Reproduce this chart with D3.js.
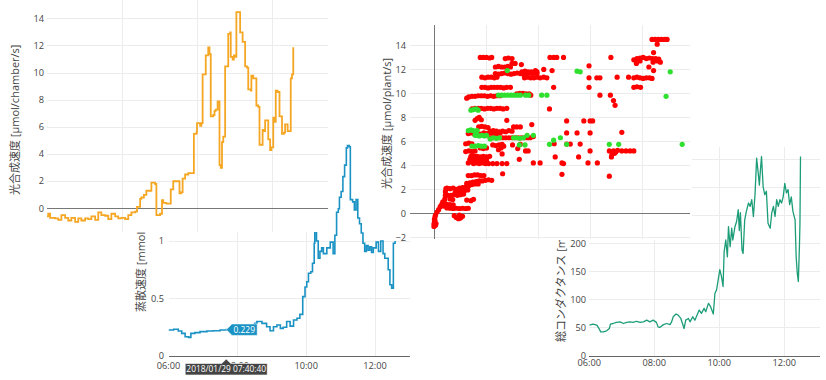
<!DOCTYPE html>
<html>
<head>
<meta charset="utf-8">
<script src="https://cdn.jsdelivr.net/npm/d3@7"></script>
<style>
  html, body { margin: 0; padding: 0; background: #fff; }
  svg { display: block; }
  text { font-family: "Open Sans", "Noto Sans CJK JP", sans-serif; fill: #444; }
</style>
</head>
<body>
<svg id="chart" width="826" height="380"></svg>
<script>
// ---- Photosynthesis per chamber (step series) ----
const photoTime = ["06:00","06:02","06:05","06:13","06:18","06:23","06:29","06:34","06:39","06:45","06:50","06:55","07:01","07:06","07:11","07:17","07:22","07:27","07:33","07:38","07:43","07:49","07:54","07:59","08:05","08:10","08:15","08:21","08:24","08:29","08:31","08:35","08:39","08:44","08:47","08:53","08:55","09:01","09:04","09:06","09:11","09:18","09:22","09:27","09:32","09:35","09:37","09:41","09:46","09:51","09:55","09:59","10:00","10:05","10:07","10:09","10:13","10:14","10:16","10:18","10:20","10:22","10:26","10:28","10:30","10:33","10:34","10:36","10:38","10:40","10:42","10:45","10:48","10:50","10:53","10:54","10:57","10:59","11:01","11:03","11:06","11:09","11:11","11:13","11:16","11:17","11:20","11:22","11:26","11:27","11:30","11:33","11:35","11:38","11:40","11:43","11:45","11:47","11:49","11:51","11:54","11:57","11:59","12:02","12:04","12:06","12:09","12:12","12:14","12:16","12:19","12:21","12:23","12:25","12:27","12:30","12:32","12:34"];
const photoValue = [-0.6,-0.4,-0.7,-0.75,-0.85,-0.5,-0.7,-0.9,-0.7,-1.0,-0.75,-0.9,-0.75,-0.8,-0.6,-0.85,-0.3,-0.5,-0.55,-0.8,-0.4,-0.6,-0.75,-0.7,-0.8,-0.5,-0.3,-0.25,0.1,0.7,0.8,1.0,1.3,1.3,1.9,1.8,-0.5,-0.4,0.6,0.4,0.35,1.4,2.0,2.0,1.1,1.2,2.2,2.5,2.6,2.6,5.5,5.6,6.3,6.1,6.3,9.9,9.9,11.3,11.3,11.9,11.4,6.8,6.9,7.2,7.3,7.9,7.9,3.2,3.0,4.9,5.3,10.5,10.5,12.9,13.0,11.2,11.0,11.3,11.2,14.5,14.5,13.0,13.0,12.3,12.3,10.5,10.4,8.8,8.7,9.8,9.6,9.6,7.6,7.5,4.7,4.7,5.8,5.7,6.5,6.5,5.1,4.3,4.5,6.7,6.4,8.7,8.6,6.8,6.8,5.5,5.6,6.2,6.2,5.7,5.7,9.6,9.9,11.9];

// ---- Transpiration (step series) ----
const transpTime = ["06:00","06:09","06:17","06:23","06:29","06:35","06:39","06:46","06:55","07:07","07:18","07:30","07:40:40","07:50","07:59","08:11","08:22","08:30","08:34","08:43","08:51","08:57","09:03","09:09","09:15","09:20","09:26","09:32","09:38","09:44","09:49","09:54","09:58","10:01","10:04","10:08","10:11","10:14","10:15","10:18","10:21","10:24","10:27","10:30","10:36","10:42","10:47","10:50","10:53","10:56","10:58","11:01","11:04","11:07","11:10","11:12","11:15","11:17","11:21","11:24","11:27","11:30","11:33","11:36","11:39","11:42","11:45","11:48","11:51","11:54","11:57","12:02","12:06","12:10","12:14","12:17","12:23","12:26","12:29","12:32","12:35"];
const transpValue = [0.226,0.232,0.217,0.197,0.168,0.162,0.197,0.203,0.212,0.217,0.22,0.226,0.229,0.238,0.24,0.25,0.262,0.285,0.3,0.284,0.255,0.22,0.255,0.27,0.24,0.25,0.3,0.26,0.313,0.328,0.362,0.516,0.6,0.646,0.719,0.733,0.806,0.98,1.08,1.0,0.85,0.91,0.94,0.89,0.94,0.99,0.89,1.05,1.25,1.28,1.38,1.43,1.56,1.66,1.81,1.83,1.82,1.36,1.34,1.27,1.36,1.2,1.15,1.07,0.98,0.91,0.96,0.92,0.95,0.9,0.94,0.99,0.91,1.0,0.89,0.85,0.75,0.62,0.59,0.98,1.0];

// ---- Total conductance ----
const condTime = ["06:00","06:07","06:14","06:18","06:21","06:26","06:32","06:37","06:39","06:44","06:50","06:57","07:03","07:09","07:15","07:21","07:27","07:34","07:40","07:46","07:52","07:58","08:04","08:07","08:10","08:17","08:23","08:29","08:32","08:35","08:40","08:44","08:49","08:52","08:55","08:58","09:03","09:06","09:11","09:15","09:19","09:23","09:27","09:32","09:35","09:40","09:44","09:49","09:52","09:55","09:58","10:01","10:04","10:07","10:09","10:12","10:15","10:17","10:20","10:23","10:25","10:29","10:32","10:35","10:37","10:39","10:42","10:44","10:47","10:50","10:54","10:57","11:00","11:03","11:06","11:09","11:12","11:14","11:16","11:18","11:21","11:24","11:27","11:30","11:34","11:37","11:40","11:43","11:46","11:49","11:52","11:55","11:58","12:01","12:04","12:07","12:10","12:13","12:16","12:20","12:22","12:24","12:26","12:28","12:29","12:30"];
const condValue = [55,57,55,49,43,43,45,49,57,58,60,61,58,60,61,60,62,60,61,64,61,64,60,52,51,56,58,56,61,70,75,73,67,58,49,64,67,61,70,64,73,82,76,85,79,94,88,75,112,118,136,154,142,124,186,207,177,231,195,228,207,231,240,261,224,256,189,183,243,258,273,267,279,249,288,353,326,305,332,356,302,288,294,237,228,256,267,249,279,267,279,273,284,308,291,297,270,284,258,243,177,148,133,195,237,356];

// ---- Photosynthesis per plant vs. conductance (scatter) ----
const scatterRed = [
  [-1,-1.1],[-1,-0.9],[0,-0.7],[0,-0.5],[1,-0.3],[2,-0.15],[3,-0.85],[2,-1.0],[1,-0.6],
  [5,0.1],[8,0.3],[11,0.55],[14,0.75],[16,0.95],
  [18,0.6],[19,0.9],[20,1.2],[21,1.5],[21,1.8],[22,2.05],
  [24,0.45],[30,0.42],[36,0.4],[42,0.42],[48,0.4],[54,0.42],[60,0.4],[65,0.42],
  [24,0.75],[30,0.72],[36,0.7],
  [38,-0.2],[42,-0.35],[46,-0.45],[50,-0.4],[54,-0.25],[48,-0.15],
  [24,2.1],[30,2.05],[36,2.1],[42,2.0],[48,2.1],[54,2.15],[60,2.2],
  [26,1.5],[32,1.5],[38,1.55],[44,1.5],[50,1.55],[56,1.6],
  [30,1.2],[35,1.15],
  [40,1.75],[46,1.8],[52,1.85],[58,1.9],[64,1.95],
  [62,1.1],[70,1.05],[75,1.17],
  [62,2.5],[68,2.55],[74,2.6],[80,2.65],[86,2.7],[92,2.7],[98,2.75],[104,2.8],[110,2.75],
  [66,2.3],[72,2.4],[78,2.45],[84,2.45],
  [65,3.15],[71,3.15],[77,3.2],[83,3.2],[89,3.15],[95,3.15],
  [131,3.3],[245,3.25],[336,3.1],
  [65,4.2],[70,4.3],[75,4.15],[80,4.2],[86,4.15],[92,4.2],[98,4.15],[104,4.15],[112,4.15],[120,4.15],[130,4.15],[139,4.15],
  [68,4.5],[74,4.45],[80,4.5],[86,4.45],[92,4.5],[100,4.45],
  [70,4.75],[76,4.8],[82,4.75],[88,4.7],[94,4.75],[100,4.7],[106,4.75],
  [60,5.15],[66,5.2],[72,5.15],[78,5.2],
  [88,5.45],[94,5.4],[100,5.45],
  [112,5.7],[118,5.65],[124,5.7],[130,5.75],
  [60,5.8],[66,5.85],[72,5.8],
  [123,5.3],[128,5.45],[133,5.6],
  [190,4.2],[203,4.2],[232,4.7],[245,4.2],[248,4.15],[277,4.7],[295,4.2],[313,4.2],
  [299,5.2],[336,5.2],[344,5.2],[352,5.25],[360,5.2],[368,5.2],[376,5.2],[383,5.2],
  [341,4.9],[346,5.0],[340,4.7],[348,5.1],
  [175,5.2],[180,5.2],[160,5.4],[163,4.5],[130,4.95],[150,5.7],[165,5.75],
  [230,5.8],[254,5.77],[261,5.77],[280,5.77],
  [107,6.3],[113,6.3],[119,6.3],[125,6.3],[131,6.3],[137,6.3],[143,6.3],[149,6.3],[155,6.3],[161,6.3],[167,6.3],[173,6.3],[179,6.3],[184,6.3],
  [65,6.65],[71,6.7],[77,6.6],[83,6.65],[89,6.6],[95,6.7],[101,6.65],[107,6.7],[113,6.65],[120,6.65],[126,6.7],
  [107,6.85],[113,6.9],[119,6.85],[125,6.8],[131,6.85],[137,6.8],[143,6.9],[149,6.85],
  [85,7.2],[91,7.25],[97,7.2],[103,7.15],[152,7.2],[158,7.2],[165,7.2],
  [187,7.4],[190,6.4],[254,6.7],[274,6.7],[299,6.7],[360,6.75],
  [254,7.7],[287,7.7],[299,7.7],[304,7.7],[139,7.75],
  [78,7.75],[82,7.9],[86,8.0],[90,7.8],
  [72,8.7],[78,8.75],[84,8.75],[90,8.75],[96,8.7],[102,8.75],[108,8.75],[114,8.7],[120,8.75],[126,8.75],[132,8.7],[139,8.75],
  [221,8.7],
  [62,9.6],[66,9.7],[72,9.75],[78,9.75],[84,9.8],[90,9.8],[96,9.8],[102,9.75],[108,9.8],[114,9.75],[120,9.8],[126,9.8],
  [158,9.95],[164,10.0],[170,10.0],[176,9.95],[182,9.95],[185,9.85],
  [91,10.5],[97,10.5],[103,10.45],[109,10.5],[115,10.5],[121,10.5],[127,10.5],[133,10.45],[139,10.5],[146,10.5],
  [229,10.5],[297,10.5],[318,9.85],[338,9.85],[344,9.4],[347,9.0],[383,10.5],[389,10.55],[396,10.5],
  [91,11.35],[97,11.3],[103,11.35],[109,11.35],[115,11.3],[120,11.35],
  [117,11.65],[123,11.6],[129,11.65],[135,11.7],[141,11.65],[147,11.6],[153,11.65],[159,11.7],[165,11.65],[171,11.6],[177,11.65],[183,11.7],[189,11.65],[197,11.65],
  [117,12.2],[123,12.25],[129,12.2],[135,12.2],[141,12.25],[146,12.2],
  [149,12.5],[155,12.5],[167,12.4],
  [168,11.8],[174,11.85],[180,11.8],[186,11.8],[197,11.8],
  [173,11.3],[179,11.35],[185,11.3],[191,11.3],[197,11.35],[203,11.3],[210,11.35],[216,11.3],
  [194,11.9],[210,12.0],[226,11.9],[297,11.3],[297,12.3],[312,11.3],[318,11.3],[351,11.35],[373,11.35],
  [383,11.3],[389,11.35],[395,11.3],[401,11.25],[407,11.3],[413,11.3],[418,11.25],
  [421,11.9],[412,12.2],
  [88,13.0],[94,13.0],[100,13.0],[106,12.95],[110,13.0],
  [136,12.9],[142,12.95],[149,12.9],
  [222,13.0],[229,13.0],[235,13.0],[248,13.0],[339,13.0],
  [383,12.8],[389,12.9],[395,12.95],[401,13.0],[407,12.9],[413,12.95],[419,12.9],[425,12.9],[431,12.85],[434,12.6],[428,12.7],[420,12.6],[395,12.7],[388,12.5],
  [421,13.4],
  [418,14.5],[424,14.5],[430,14.5],[436,14.5],[442,14.5],[447,14.5],[428,14.1]
];
const scatterGreen = [
  [65,6.9],[70,6.95],[74,6.9],[78,6.85],[82,6.9],
  [78,6.5],[82,6.5],[86,6.45],[91,6.5],[96,6.45],[100,6.5],
  [70,8.6],[75,8.65],[80,8.7],[84,8.6],
  [72,5.6],[78,5.6],[84,5.65],[90,5.6],[96,5.6],
  [107,6.2],[113,6.3],[119,6.25],[125,6.3],
  [152,6.3],[158,6.3],[164,6.25],[171,6.3],[178,6.5],[190,6.5],
  [123,9.85],[129,9.85],[135,9.85],[141,9.85],[147,9.85],[153,9.85],[159,9.85],[165,9.85],[175,9.85],[181,9.85],[206,9.85],[216,9.85],
  [140,11.9],[163,5.7],[174,5.7],
  [221,5.75],[229,6.1],[242,6.3],[254,5.75],[336,5.75],[354,5.75],
  [274,11.85],[280,11.8],[445,9.75],[453,11.8],[476,5.75]
];

const hoverTime = "07:40:40";

// ---- helpers ----
const svg = d3.select("#chart");
const GRID = "#ececec", ZERO = "#777", AXIS = "#666";
const TICK_FS = "9.2px", TITLE_FS = "11px";
const clockParse = d3.timeParse("%Y-%m-%d %H:%M:%S");
const parseClock = s => clockParse("2018-01-29 " + (s.length === 5 ? s + ":00" : s));
const series = (times, values) => times.map((t, i) => ({ key: t, t: parseClock(t), v: values[i] }));

const photo = series(photoTime, photoValue);
const transp = series(transpTime, transpValue);
const cond = series(condTime, condValue);

function addClip(id, x0, y0, x1, y1) {
  svg.append("clipPath").attr("id", id).append("rect")
    .attr("x", x0).attr("y", y0).attr("width", x1 - x0).attr("height", y1 - y0);
}
function hLines(g, ys, x0, x1, color) {
  g.append("g").selectAll("line").data(ys).join("line")
    .attr("x1", x0).attr("x2", x1).attr("y1", d => d).attr("y2", d => d)
    .attr("stroke", color).attr("stroke-width", 1).attr("shape-rendering", "crispEdges");
}
function vLines(g, xs, y0, y1, color) {
  g.append("g").selectAll("line").data(xs).join("line")
    .attr("x1", d => d).attr("x2", d => d).attr("y1", y0).attr("y2", y1)
    .attr("stroke", color).attr("stroke-width", 1).attr("shape-rendering", "crispEdges");
}
function yLabels(g, scale, ticks, x, fmt) {
  g.append("g").selectAll("text").data(ticks).join("text")
    .attr("x", x).attr("y", d => scale(d)).attr("dy", "0.35em")
    .attr("text-anchor", "end").style("font-size", TICK_FS).text(fmt);
}
function xLabels(g, scale, ticks, y) {
  g.append("g").selectAll("text").data(ticks).join("text")
    .attr("x", d => scale(d)).attr("y", y)
    .attr("text-anchor", "middle").style("font-size", TICK_FS).text(d3.timeFormat("%H:%M"));
}
function vTitle(g, x, y, txt) {
  g.append("text").attr("transform", `translate(${x},${y}) rotate(-90)`)
    .attr("text-anchor", "start").style("font-size", TITLE_FS).text(txt);
}
const everyTwoHours = d3.timeHour.every(2);

// ===== Total conductance panel =====
{
  const x = d3.scaleTime().domain([parseClock("06:00"), parseClock("13:06")]).range([589.3, 820]);
  const y = d3.scaleLinear().domain([0, 373]).range([356, 147]);
  const g = svg.append("g");
  addClip("clipCond", 589.3, 147, 820, 357);
  const yt = y.ticks(8);
  const xt = x.ticks(everyTwoHours);
  hLines(g, yt.filter(v => v > 0).map(y), 589.3, 820, GRID);
  vLines(g, xt.filter(d => d.getHours() > 6).map(x), 147, 356, GRID);
  hLines(g, [y(0)], 589.3, 820, AXIS);
  g.append("path").datum(cond)
    .attr("d", d3.line().x(d => x(d.t)).y(d => y(d.v)))
    .attr("fill", "none").attr("stroke", "#1c9d78").attr("stroke-width", 1.3)
    .attr("stroke-linejoin", "round").attr("clip-path", "url(#clipCond)");
  yLabels(g, y, yt, 586, d3.format("d"));
  xLabels(g, x, xt, 366);
  vTitle(g, 565, 342, "総コンダクタンス [mmol/m²/s]");
}

// ===== Transpiration panel =====
let tx, ty;
{
  const x = d3.scaleTime().domain([parseClock("06:00"), parseClock("13:01")]).range([168.5, 410]);
  const y = d3.scaleLinear().domain([0, 1.95]).range([356, 131.75]);
  tx = x; ty = y;
  const g = svg.append("g");
  addClip("clipTransp", 168.5, 120, 410, 357);
  const yt = y.ticks(4).filter(v => v <= 1);
  const xt = x.ticks(everyTwoHours);
  hLines(g, yt.filter(v => v > 0).map(y), 168.5, 410, GRID);
  vLines(g, xt.filter(d => d.getHours() > 6).map(x), 232, 356, GRID);
  hLines(g, [y(0)], 168.5, 410, AXIS);
  g.append("path").datum(transp)
    .attr("d", d3.line().curve(d3.curveStepAfter).x(d => x(d.t)).y(d => y(d.v)))
    .attr("fill", "none").attr("stroke", "#1a92c4").attr("stroke-width", 1.6)
    .attr("clip-path", "url(#clipTransp)");
  yLabels(g, y, yt, 164, d3.format(""));
  xLabels(g, x, xt, 369);
  vTitle(g, 145, 312, "蒸散速度 [mmol/chamber/s]");
}

// ===== Scatter panel =====
{
  const x = d3.scaleLinear().domain([-47, 491]).range([410, 690]);
  const y = d3.scaleLinear().domain([-2.1, 15.7]).range([238.5, 25]);
  const g = svg.append("g");
  g.append("rect").attr("x", 372).attr("y", 0).attr("width", 320).attr("height", 240).attr("fill", "#fff");
  addClip("clipScatter", 410, 25, 690, 238.5);
  const yt = y.ticks(9);
  const xt = x.ticks(5);
  hLines(g, yt.filter(v => v !== 0).map(y), 410, 690, GRID);
  vLines(g, xt.filter(v => v !== 0).map(x), 25, 238.5, GRID);
  hLines(g, [y(0)], 410, 690, ZERO);
  vLines(g, [x(0)], 25, 238.5, ZERO);
  const pts = g.append("g").attr("clip-path", "url(#clipScatter)");
  pts.selectAll("circle.r").data(scatterRed).join("circle").attr("class", "r")
    .attr("cx", d => x(d[0])).attr("cy", d => y(d[1])).attr("r", 2.6).attr("fill", "#ff0000");
  pts.selectAll("circle.g").data(scatterGreen).join("circle").attr("class", "g")
    .attr("cx", d => x(d[0])).attr("cy", d => y(d[1])).attr("r", 2.6).attr("fill", "#2fe02f");
  yLabels(g, y, yt, 406, d3.format(""));
  vTitle(g, 391, 189, "光合成速度 [µmol/plant/s]");
}

// ===== Photosynthesis per chamber panel =====
{
  const x = d3.scaleTime().domain([parseClock("06:00"), parseClock("13:30")]).range([47, 328.25]);
  const y = d3.scaleLinear().domain([-1.75, 15.4]).range([232, 0]);
  const g = svg.append("g");
  g.append("rect").attr("x", 0).attr("y", 0).attr("width", 330).attr("height", 232).attr("fill", "#fff");
  addClip("clipPhoto", 47, 0, 328.25, 232);
  const yt = y.ticks(8);
  const xt = x.ticks(everyTwoHours);
  hLines(g, yt.filter(v => v !== 0).map(y), 47, 328.25, GRID);
  vLines(g, xt.filter(d => d.getHours() > 6).map(x), 0, 232, GRID);
  hLines(g, [y(0)], 47, 328.25, ZERO);
  g.append("path").datum(photo)
    .attr("d", d3.line().curve(d3.curveStepAfter).x(d => x(d.t)).y(d => y(d.v)))
    .attr("fill", "none").attr("stroke", "#f5a623").attr("stroke-width", 1.8)
    .attr("clip-path", "url(#clipPhoto)");
  yLabels(g, y, yt, 44, d3.format(""));
  vTitle(g, 19, 195, "光合成速度 [µmol/chamber/s]");
}

// ===== Hover labels on the transpiration trace =====
{
  const p = transp.find(d => d.key === hoverTime);
  const px = tx(p.t), py = ty(p.v);
  const tip = svg.append("g");
  // value label with arrow pointing at the point
  const vw = 26, vh = 11.5, a = 5;
  tip.append("path")
    .attr("d", `M${px},${py} L${px + a},${py - a} V${py - vh / 2} H${px + a + vw} V${py + vh / 2} H${px + a} V${py + a} Z`)
    .attr("fill", "#1a92c4").attr("stroke", "#fff").attr("stroke-width", 0.6);
  tip.append("text").attr("x", px + a + vw / 2).attr("y", py).attr("dy", "0.35em")
    .attr("text-anchor", "middle").style("font-size", "8.4px").style("fill", "#fff")
    .text(d3.format(".3f")(p.v));
  // time label on the axis
  const ax = ty(0), bw = 82, bh = 11.5, top = ax + 7.5;
  tip.append("path")
    .attr("d", `M${px},${ax + 3} L${px + 4.5},${top} H${px + bw / 2} V${top + bh} H${px - bw / 2} V${top} H${px - 4.5} Z`)
    .attr("fill", "#444").attr("stroke", "#fff").attr("stroke-width", 0.6);
  tip.append("text").attr("x", px).attr("y", top + bh / 2).attr("dy", "0.35em")
    .attr("text-anchor", "middle").style("font-size", "8.4px").style("fill", "#fff")
    .text(d3.timeFormat("%Y/%m/%d %H:%M:%S")(p.t));
}
</script>
</body>
</html>
